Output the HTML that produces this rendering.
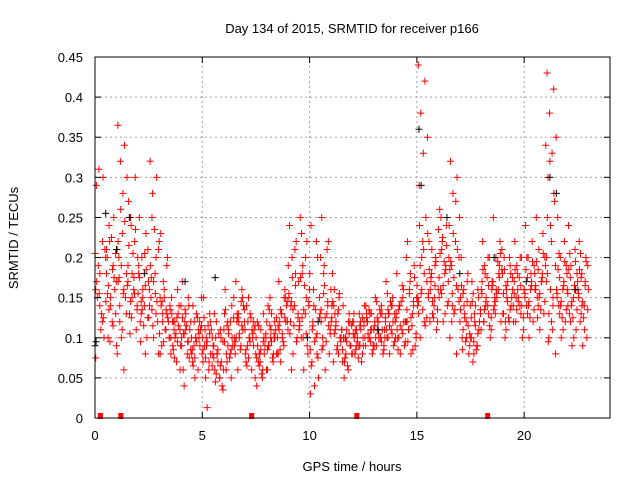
<!DOCTYPE html>
<html><head><meta charset="utf-8"><style>
body{margin:0;background:#fff}
svg{display:block;font-family:"Liberation Sans",sans-serif}
</style></head><body>
<svg id="c" width="640" height="480" xmlns="http://www.w3.org/2000/svg">
<text x="352" y="33" text-anchor="middle" font-size="13" fill="#000">Day 134 of 2015, SRMTID for receiver p166</text>
<text x="352" y="471" text-anchor="middle" font-size="13" fill="#000">GPS time / hours</text>
<text transform="translate(18,238) rotate(-90)" text-anchor="middle" font-size="13" fill="#000">SRMTID / TECUs</text>
<g id="grid"></g>
<g id="pts"></g>
<g id="axes"></g>
</svg>
<script>
const xTicks=[0,5,10,15,20];
const yTicks=[0,0.05,0.1,0.15,0.2,0.25,0.3,0.35,0.4,0.45];
const yTickLabels=["0","0.05","0.1","0.15","0.2","0.25","0.3","0.35","0.4","0.45"];
const binStarts=[0,0.5,1,1.5,2,2.5,3,3.5,4,4.5,5,5.5,6,6.5,7,7.5,8,8.5,9,9.5,10,10.5,11,11.5,12,12.5,13,13.5,14,14.5,15,15.5,16,16.5,17,17.5,18,18.5,19,19.5,20,20.5,21,21.5,22,22.5];
const redValues=[
[0.29,0.3,0.31,0.2,0.13,0.15,0.1,0.18,0.075,0.22],
[0.2,0.25,0.22,0.17,0.12,0.1,0.16,0.14,0.21,0.19,0.24,0.13],
[0.365,0.34,0.32,0.3,0.28,0.2,0.15,0.1,0.08,0.06,0.12,0.18,0.23,0.17],
[0.27,0.3,0.24,0.2,0.16,0.13,0.11,0.15,0.19,0.22,0.25,0.14],
[0.25,0.23,0.2,0.17,0.14,0.12,0.1,0.16,0.19,0.08,0.13,0.21],
[0.32,0.3,0.28,0.22,0.18,0.15,0.12,0.1,0.14,0.2,0.25,0.08],
[0.23,0.2,0.17,0.14,0.11,0.09,0.12,0.15,0.08,0.19,0.13,0.1],
[0.15,0.13,0.11,0.09,0.07,0.12,0.14,0.1,0.08,0.16,0.12,0.06],
[0.17,0.14,0.12,0.1,0.08,0.06,0.11,0.13,0.09,0.15,0.04,0.12],
[0.14,0.12,0.1,0.08,0.06,0.09,0.11,0.13,0.07,0.1,0.05,0.15],
[0.15,0.12,0.1,0.08,0.06,0.09,0.11,0.013,0.07,0.13,0.05,0.1],
[0.13,0.1,0.08,0.06,0.05,0.045,0.04,0.07,0.09,0.11,0.12,0.035],
[0.16,0.14,0.12,0.1,0.08,0.06,0.09,0.11,0.13,0.05,0.07,0.15],
[0.17,0.15,0.13,0.11,0.09,0.12,0.14,0.1,0.08,0.16,0.06,0.12],
[0.14,0.12,0.1,0.08,0.06,0.09,0.11,0.13,0.07,0.1,0.15,0.05],
[0.12,0.1,0.08,0.06,0.05,0.07,0.09,0.11,0.04,0.13,0.08,0.1],
[0.14,0.12,0.1,0.08,0.07,0.09,0.11,0.13,0.06,0.1,0.15,0.08],
[0.17,0.15,0.13,0.11,0.09,0.12,0.14,0.1,0.08,0.16,0.07,0.12],
[0.24,0.22,0.2,0.17,0.14,0.12,0.1,0.08,0.15,0.18,0.06,0.13],
[0.25,0.22,0.19,0.16,0.13,0.1,0.08,0.06,0.12,0.15,0.18,0.14],
[0.24,0.2,0.16,0.13,0.1,0.07,0.05,0.04,0.03,0.08,0.12,0.15],
[0.25,0.22,0.19,0.16,0.13,0.1,0.08,0.06,0.12,0.14,0.18,0.11],
[0.18,0.15,0.13,0.11,0.09,0.07,0.1,0.12,0.14,0.08,0.16,0.1],
[0.14,0.12,0.1,0.08,0.06,0.05,0.09,0.11,0.07,0.13,0.1,0.08],
[0.13,0.12,0.11,0.1,0.09,0.08,0.07,0.1,0.12,0.09,0.11,0.08],
[0.14,0.13,0.12,0.11,0.1,0.09,0.08,0.1,0.12,0.11,0.13,0.09],
[0.15,0.13,0.12,0.11,0.1,0.09,0.08,0.1,0.12,0.14,0.11,0.09],
[0.17,0.15,0.13,0.12,0.11,0.1,0.09,0.08,0.12,0.14,0.1,0.13],
[0.18,0.16,0.14,0.12,0.11,0.1,0.09,0.08,0.13,0.15,0.1,0.12],
[0.22,0.19,0.17,0.15,0.13,0.11,0.09,0.08,0.12,0.14,0.16,0.1],
[0.44,0.42,0.38,0.35,0.33,0.29,0.25,0.2,0.15,0.12,0.1,0.17,0.22,0.13],
[0.22,0.2,0.18,0.16,0.14,0.12,0.11,0.13,0.15,0.19,0.17,0.12],
[0.26,0.24,0.22,0.2,0.18,0.16,0.14,0.12,0.15,0.19,0.21,0.17],
[0.32,0.3,0.28,0.25,0.22,0.19,0.16,0.13,0.1,0.08,0.14,0.2],
[0.2,0.18,0.16,0.14,0.12,0.1,0.08,0.13,0.15,0.17,0.11,0.09],
[0.17,0.15,0.13,0.11,0.09,0.07,0.12,0.14,0.1,0.16,0.08,0.13],
[0.22,0.2,0.18,0.16,0.14,0.12,0.1,0.15,0.17,0.13,0.19,0.11],
[0.25,0.22,0.2,0.18,0.16,0.14,0.12,0.15,0.17,0.19,0.13,0.21],
[0.2,0.18,0.16,0.14,0.12,0.1,0.15,0.17,0.13,0.19,0.11,0.16],
[0.22,0.2,0.18,0.16,0.14,0.12,0.1,0.15,0.17,0.13,0.19,0.11],
[0.24,0.22,0.2,0.18,0.16,0.14,0.12,0.1,0.15,0.17,0.13,0.19],
[0.25,0.23,0.21,0.19,0.17,0.15,0.13,0.11,0.16,0.18,0.14,0.2],
[0.43,0.41,0.38,0.35,0.33,0.3,0.27,0.24,0.2,0.15,0.1,0.08,0.12,0.18],
[0.25,0.22,0.2,0.18,0.16,0.14,0.12,0.1,0.15,0.17,0.13,0.19],
[0.24,0.21,0.19,0.17,0.15,0.13,0.11,0.09,0.14,0.16,0.12,0.18],
[0.22,0.2,0.18,0.16,0.14,0.12,0.1,0.09,0.15,0.17,0.13,0.19]
];
const redValuesExtra=[
[0.14,0.16,0.12,0.19,0.21,0.11,0.17,0.125,0.155,0.205],
[0.15,0.18,0.115,0.135,0.205,0.225,0.155,0.175,0.095,0.145,0.185,0.165],
[0.19,0.21,0.16,0.14,0.13,0.11,0.22,0.245,0.26,0.09,0.155,0.175],
[0.18,0.17,0.155,0.145,0.135,0.205,0.215,0.235,0.125,0.165,0.175,0.105],
[0.15,0.18,0.165,0.145,0.125,0.115,0.175,0.185,0.135,0.155,0.205,0.095],
[0.17,0.16,0.13,0.135,0.21,0.235,0.19,0.145,0.115,0.125,0.155,0.175],
[0.16,0.15,0.13,0.12,0.1,0.11,0.14,0.125,0.095,0.105,0.135,0.145],
[0.12,0.1,0.095,0.085,0.11,0.105,0.13,0.115,0.075,0.135,0.125,0.09],
[0.11,0.1,0.095,0.105,0.085,0.115,0.125,0.075,0.135,0.14,0.095,0.105],
[0.095,0.085,0.105,0.075,0.115,0.125,0.065,0.09,0.1,0.08,0.11,0.12],
[0.095,0.085,0.105,0.075,0.065,0.115,0.125,0.08,0.09,0.1,0.07,0.11],
[0.085,0.075,0.065,0.055,0.095,0.105,0.06,0.07,0.08,0.09,0.05,0.1],
[0.105,0.095,0.085,0.115,0.125,0.075,0.135,0.1,0.09,0.11,0.12,0.08],
[0.105,0.095,0.115,0.125,0.135,0.085,0.1,0.11,0.12,0.09,0.145,0.13],
[0.095,0.085,0.105,0.075,0.115,0.125,0.065,0.09,0.1,0.08,0.11,0.12],
[0.085,0.075,0.095,0.065,0.105,0.055,0.09,0.08,0.07,0.1,0.06,0.115],
[0.095,0.085,0.105,0.115,0.125,0.075,0.09,0.1,0.11,0.12,0.08,0.135],
[0.105,0.115,0.125,0.135,0.145,0.095,0.11,0.12,0.13,0.1,0.15,0.085],
[0.135,0.155,0.165,0.145,0.125,0.115,0.105,0.095,0.175,0.19,0.21,0.14],
[0.135,0.115,0.105,0.125,0.145,0.165,0.175,0.09,0.1,0.11,0.2,0.23],
[0.095,0.085,0.105,0.115,0.125,0.135,0.065,0.075,0.14,0.18,0.22,0.11],
[0.125,0.135,0.145,0.155,0.105,0.095,0.085,0.115,0.165,0.2,0.21,0.09],
[0.115,0.125,0.135,0.105,0.095,0.085,0.145,0.155,0.11,0.12,0.13,0.14],
[0.095,0.085,0.105,0.075,0.115,0.065,0.1,0.09,0.08,0.11,0.12,0.07],
[0.095,0.105,0.115,0.085,0.125,0.075,0.1,0.11,0.09,0.12,0.13,0.105],
[0.105,0.115,0.095,0.125,0.085,0.135,0.1,0.11,0.12,0.09,0.13,0.14],
[0.105,0.115,0.095,0.125,0.085,0.135,0.1,0.11,0.12,0.09,0.13,0.145],
[0.115,0.125,0.105,0.135,0.095,0.145,0.11,0.12,0.13,0.1,0.14,0.155],
[0.115,0.125,0.105,0.135,0.095,0.145,0.11,0.12,0.14,0.1,0.165,0.085],
[0.125,0.135,0.145,0.155,0.105,0.115,0.095,0.175,0.18,0.2,0.085,0.11],
[0.16,0.14,0.18,0.19,0.125,0.135,0.145,0.115,0.155,0.165,0.21,0.24],
[0.145,0.155,0.165,0.175,0.135,0.125,0.185,0.195,0.21,0.23,0.15,0.16],
[0.165,0.175,0.185,0.155,0.145,0.195,0.205,0.215,0.225,0.235,0.13,0.25],
[0.175,0.185,0.165,0.155,0.145,0.135,0.195,0.21,0.23,0.24,0.27,0.12],
[0.125,0.135,0.145,0.155,0.105,0.095,0.165,0.115,0.14,0.12,0.1,0.085],
[0.115,0.125,0.105,0.095,0.135,0.085,0.145,0.11,0.12,0.1,0.09,0.155],
[0.145,0.155,0.165,0.135,0.125,0.175,0.185,0.115,0.14,0.16,0.2,0.12],
[0.155,0.165,0.175,0.145,0.185,0.195,0.135,0.205,0.16,0.17,0.18,0.15],
[0.145,0.155,0.135,0.165,0.175,0.125,0.185,0.14,0.15,0.13,0.2,0.12],
[0.145,0.155,0.165,0.135,0.125,0.175,0.185,0.14,0.16,0.12,0.2,0.15],
[0.145,0.155,0.165,0.175,0.135,0.125,0.185,0.195,0.14,0.16,0.18,0.2],
[0.155,0.165,0.175,0.185,0.145,0.135,0.195,0.205,0.15,0.16,0.17,0.125],
[0.16,0.17,0.14,0.13,0.19,0.22,0.25,0.28,0.32,0.34,0.11,0.095],
[0.145,0.155,0.165,0.175,0.135,0.125,0.185,0.195,0.14,0.16,0.11,0.205],
[0.145,0.155,0.165,0.175,0.135,0.125,0.185,0.195,0.14,0.16,0.1,0.205],
[0.145,0.155,0.165,0.175,0.135,0.125,0.185,0.195,0.14,0.16,0.11,0.205]
];
const blackTimes=[0.0,0.05,0.5,1.0,1.6,2.3,4.2,5.6,9.9,10.4,13.2,15.1,15.2,16.4,17.0,18.6,20.1,21.2,21.5,22.4];
const blackValues=[0.09,0.095,0.255,0.21,0.25,0.18,0.17,0.175,0.1,0.12,0.11,0.36,0.29,0.25,0.18,0.2,0.17,0.3,0.28,0.16];
const gapTimes=[0.25,1.2,7.3,12.2,18.3];

const X0=95,X1=610,Y0=418,Y1=57,XMAX=24,YMAX=0.45;
const sx=v=>X0+(X1-X0)*v/XMAX;
const sy=v=>Y0-(Y0-Y1)*v/YMAX;
const NS="http://www.w3.org/2000/svg";
function mk(tag,attrs,parent){const e=document.createElementNS(NS,tag);for(const k in attrs)e.setAttribute(k,attrs[k]);parent.appendChild(e);return e;}
const grid=document.getElementById('grid'),pts=document.getElementById('pts'),axes=document.getElementById('axes');
xTicks.forEach(t=>{
  const x=sx(t);
  if(t>0){const l=mk('line',{x1:x,y1:Y0,x2:x,y2:Y1,stroke:'#a0a0a0','stroke-dasharray':'2,3'},grid);
  
  }
  mk('line',{x1:x,y1:Y0,x2:x,y2:Y0-6,stroke:'#000'},axes);
  mk('line',{x1:x,y1:Y1,x2:x,y2:Y1+6,stroke:'#000'},axes);
  const tx=mk('text',{x:x,y:Y0+22,'text-anchor':'middle','font-size':'13'},axes);
  tx.textContent=String(t);
  
  
});
yTicks.forEach((t,i)=>{
  const y=sy(t);
  if(t>0&&t<YMAX){const l=mk('line',{x1:X0,y1:y,x2:X1,y2:y,stroke:'#a0a0a0','stroke-dasharray':'2,3'},grid);
  
  }
  mk('line',{x1:X0,y1:y,x2:X0+6,y2:y,stroke:'#000'},axes);
  mk('line',{x1:X1,y1:y,x2:X1-6,y2:y,stroke:'#000'},axes);
  const tx=mk('text',{x:X0-12,y:y+5,'text-anchor':'end','font-size':'13'},axes);
  tx.textContent=yTickLabels[i];
  
  
});
const frame=mk('rect',{x:X0,y:Y1,width:X1-X0,height:Y0-Y1,fill:'none',stroke:'#000'},axes);


function plus(t,v,color){
  const x=sx(t),y=sy(v);
  return mk('path',{d:`M${x-3.5},${y}H${x+3.5}M${x},${y-3.5}V${y+3.5}`,stroke:color,'stroke-width':'1',fill:'none'},pts);
}
function drawBins(values,phase){
  binStarts.forEach((b,bi)=>{
    values[bi].forEach((v,i)=>{
      const t=b+((i*0.618+phase)%1)*0.5;
      const p=plus(t,v,'#ff0000');
      
      
    });
  });
}
drawBins(redValues,0.13);
drawBins(redValuesExtra,0.45);
blackTimes.forEach((t,i)=>{
  const p=plus(t,blackValues[i],'#000000');
  
  
});
gapTimes.forEach(t=>{
  const r=mk('rect',{x:sx(t)-2.5,y:Y0-5,width:5,height:6,fill:'#ff0000'},pts);
  
  
});
</script>
</body></html>
